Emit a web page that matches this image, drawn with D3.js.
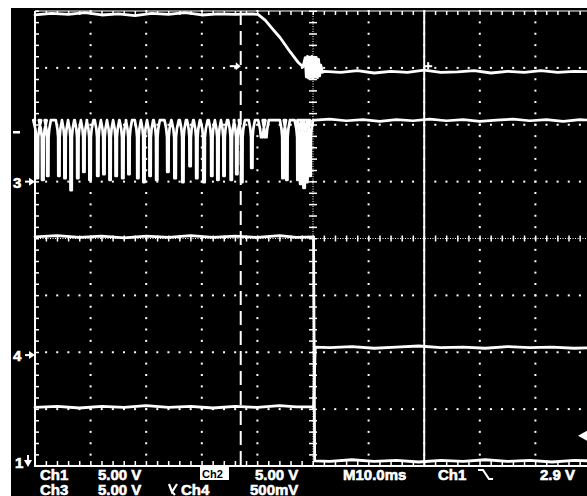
<!DOCTYPE html>
<html>
<head>
<meta charset="utf-8">
<script src="https://cdn.jsdelivr.net/npm/d3@7"></script>
<style>
  html, body { margin: 0; padding: 0; background: #fff; }
  svg { display: block; }
  .lbl { font-family: "Liberation Sans", Arial, sans-serif; font-weight: bold; font-size: 15px; fill: #fff; stroke: #fff; stroke-width: 0.6px; }
</style>
</head>
<body>
<svg id="scope" width="587" height="496"></svg>
<script>
// time in ms (10 ms/div, trigger at 0), level in divisions from screen centre
const timeDomain = [-50, 50];
const divDomain = [-4, 4];
const gridTimes = [-40, -30, -20, -10, 10, 20, 30, 40];
const gridDivs = [-3, -2, -1, 1, 2, 3];

// Ch1 : supply falling from ~3.95 div to ~2.93 div
const ch1Trace = [
  [-50, 3.93], [-47, 3.96], [-44, 3.94], [-41, 3.97], [-38, 3.93], [-35, 3.95], [-32, 3.92],
  [-29, 3.96], [-26, 3.94], [-23, 3.97], [-20, 3.93], [-17, 3.95], [-14, 3.94], [-11, 3.95],
  [-9.9, 3.94], [-8.6, 3.84], [-7.4, 3.70], [-5.9, 3.53], [-4.1, 3.28], [-2.7, 3.10], [-1.8, 3.02],
  [-1.4, 3.18], [-1.2, 2.84], [-1.0, 3.20], [-0.8, 2.82], [-0.6, 3.19], [-0.4, 2.83], [-0.2, 3.20],
  [0.0, 2.82], [0.2, 3.19], [0.4, 2.84], [0.6, 3.18], [0.8, 2.83], [1.0, 3.15], [1.2, 2.86], [1.4, 3.05],
  [1.7, 2.92], [2, 2.94], [5, 2.92], [8, 2.95], [11, 2.91], [14, 2.94], [17, 2.92], [20, 2.96], [23, 2.92],
  [26, 2.93], [29, 2.95], [32, 2.91], [35, 2.94], [38, 2.92], [41, 2.95], [44, 2.92], [47, 2.94], [50, 2.93]
];

// Ch2 : logic signal at ~2.08 div with negative pulses before the trigger
const ch2Level = 2.08;
const ch2Spikes = [ // [time, bottom level, half width]
  [-49.6, 1.06, 0.7], [-48.6, 1.03, 0.7], [-47.7, 1.10, 0.55], [-45.7, 1.10, 0.55], [-44.6, 1.06, 0.55],
  [-43.5, 0.85, 0.55], [-42.3, 1.06, 0.55], [-41.2, 1.17, 0.55], [-40.1, 1.03, 0.6], [-38.7, 1.10, 0.55],
  [-37.6, 1.13, 0.55], [-36.5, 1.03, 0.55], [-35.4, 1.10, 0.55], [-34.2, 1.06, 0.6], [-33.1, 1.13, 0.55],
  [-31.5, 1.06, 0.55], [-30.4, 0.99, 0.55], [-29.3, 1.10, 0.55], [-28.1, 1.03, 0.55], [-26.1, 1.17, 0.6],
  [-24.8, 1.06, 0.65], [-23.4, 0.99, 0.55], [-22.1, 1.27, 0.55], [-20.9, 1.06, 0.55], [-19.6, 0.99, 0.65],
  [-18.2, 1.10, 0.55], [-17.1, 1.03, 0.55], [-16.0, 1.10, 0.55], [-14.7, 1.03, 0.55], [-13.7, 1.13, 0.55],
  [-12.8, 0.99, 0.55], [-11.0, 1.24, 0.55], [-9.2, 1.80, 0.65], [-8.5, 1.84, 0.55], [-5.4, 1.06, 0.55],
  [-4.7, 1.03, 0.55], [-2.7, 1.03, 0.6], [-2.2, 0.96, 0.6], [-1.6, 0.89, 0.6], [-1.1, 0.99, 0.6], [-0.5, 1.10, 0.5]
];
const ch2Tail = [
  [0.3, 2.08], [3, 2.10], [6, 2.07], [9, 2.09], [12, 2.06], [15, 2.09], [18, 2.07], [21, 2.10],
  [24, 2.07], [27, 2.09], [30, 2.06], [33, 2.08], [36, 2.10], [39, 2.07], [42, 2.09], [45, 2.06], [48, 2.09], [50, 2.08]
];

// Ch3 : high at centre line, drops at the trigger
const ch3Trace = [
  [-50, 0.03], [-46, 0.05], [-42, 0.02], [-38, 0.04], [-34, 0.01], [-30, 0.04], [-26, 0.02],
  [-22, 0.05], [-18, 0.02], [-14, 0.04], [-10, 0.02], [-6, 0.05], [-3, 0.02], [0.1, 0.03],
  [0.3, -3.91], [3, -3.92], [7, -3.89], [11, -3.92], [15, -3.90], [19, -3.93], [23, -3.90],
  [27, -3.92], [31, -3.89], [35, -3.92], [39, -3.90], [43, -3.93], [47, -3.90], [50, -3.91]
];

// Ch4 : current probe, steps up at the trigger
const ch4Trace = [
  [-50, -2.97], [-46, -2.95], [-42, -2.98], [-38, -2.95], [-34, -2.97], [-30, -2.94], [-26, -2.97],
  [-22, -2.95], [-18, -2.98], [-14, -2.95], [-10, -2.97], [-6, -2.94], [-3, -2.96], [0.1, -2.96],
  [0.4, -1.91], [3, -1.92], [7, -1.90], [11, -1.93], [15, -1.91], [19, -1.89], [23, -1.92],
  [27, -1.91], [31, -1.93], [35, -1.90], [39, -1.92], [43, -1.91], [47, -1.93], [50, -1.92]
];

const cursorDashed = -13;
const cursorSolid = 20;
const channelMarkers = [["3", 1.0], ["4", -2.05]];

const svg = d3.select('#scope');
const width = 587, height = 496;

const x = d3.scaleLinear().domain(timeDomain).range([35, 591]);
const y = d3.scaleLinear().domain(divDomain).range([466, 11]);

// white margins and black screen
svg.append('rect').attr('width', width).attr('height', height).attr('fill', '#fff');
svg.append('rect').attr('x', 11).attr('y', 8).attr('width', width - 11).attr('height', height - 8).attr('fill', '#000');

const grid = svg.append('g').attr('fill', '#fff');
const minorT = d3.range(-50, 50.01, 2);
const minorV = d3.range(-4, 4.01, 0.2);

// dotted graticule
gridTimes.forEach(t => {
  grid.selectAll(null).data(minorV).enter().append('rect')
    .attr('x', x(t) - 1).attr('y', d => y(d) - 1).attr('width', 2).attr('height', 2);
});
gridDivs.forEach(v => {
  grid.selectAll(null).data(minorT).enter().append('rect')
    .attr('x', d => x(d) - 1).attr('y', y(v) - 1).attr('width', 2).attr('height', 2);
});

// centre axes with ticks
grid.append('line').attr('x1', x(-50)).attr('x2', x(50)).attr('y1', y(0)).attr('y2', y(0))
  .attr('stroke', '#fff').attr('stroke-width', 1).attr('stroke-dasharray', '1,1.5');
grid.append('line').attr('x1', x(0)).attr('x2', x(0)).attr('y1', y(4)).attr('y2', y(-4))
  .attr('stroke', '#fff').attr('stroke-width', 1).attr('stroke-dasharray', '1,1.5');
grid.selectAll(null).data(minorT).enter().append('rect')
  .attr('x', d => x(d) - 0.5).attr('y', y(0) - 3).attr('width', 1.5).attr('height', 6);
grid.selectAll(null).data(minorV).enter().append('rect')
  .attr('x', x(0) - 4).attr('y', d => y(d) - 0.5).attr('width', 8).attr('height', 1.5);

// frame edges with ticks
grid.append('rect').attr('x', x(-50) - 1).attr('y', y(4)).attr('width', 2).attr('height', y(-4) - y(4) + 1);
grid.append('rect').attr('x', x(-50)).attr('y', y(-4) - 1).attr('width', x(50) - x(-50)).attr('height', 2);
grid.append('rect').attr('x', x(-50)).attr('y', y(4) - 0.5).attr('width', x(50) - x(-50)).attr('height', 1);
grid.selectAll(null).data(minorV).enter().append('rect')
  .attr('x', x(-50)).attr('y', d => y(d) - 0.5).attr('width', 4).attr('height', 1.5);
grid.selectAll(null).data(minorT).enter().append('rect')
  .attr('x', d => x(d) - 0.5).attr('y', y(-4) - 5).attr('width', 1.5).attr('height', 5);
grid.selectAll(null).data(minorT).enter().append('rect')
  .attr('x', d => x(d) - 0.5).attr('y', y(4)).attr('width', 1.5).attr('height', 4);

// cursors
svg.append('line').attr('x1', x(cursorDashed)).attr('x2', x(cursorDashed)).attr('y1', y(4)).attr('y2', y(-4))
  .attr('stroke', '#fff').attr('stroke-width', 2).attr('stroke-dasharray', '14,6');
svg.append('line').attr('x1', x(cursorSolid)).attr('x2', x(cursorSolid)).attr('y1', y(4)).attr('y2', y(-4))
  .attr('stroke', '#fff').attr('stroke-width', 2);

// traces
const line = d3.line().x(d => x(d[0])).y(d => y(d[1]));

// each pulse: wide head just below the level, then a straight narrow stem
function ch2Points() {
  const pts = [[-50, ch2Level]];
  ch2Spikes.forEach(([t, bottom, w]) => {
    pts.push([t - w, ch2Level], [t - w * 0.5, ch2Level - 0.15], [t - w * 0.25, ch2Level - 0.3],
             [t - w * 0.2, bottom], [t + w * 0.2, bottom],
             [t + w * 0.25, ch2Level - 0.3], [t + w * 0.5, ch2Level - 0.15], [t + w, ch2Level]);
  });
  return pts.concat(ch2Tail);
}

const traces = svg.append('g').attr('fill', 'none').attr('stroke', '#fff')
  .attr('stroke-linejoin', 'round').attr('stroke-linecap', 'round');
traces.append('path').datum(ch1Trace).attr('d', line).attr('stroke-width', 2.8);
traces.append('path').datum(ch2Points()).attr('d', line).attr('stroke-width', 2.7);
traces.append('path').datum(ch3Trace).attr('d', line).attr('stroke-width', 2.8);
traces.append('path').datum(ch4Trace).attr('d', line).attr('stroke-width', 2.8);

// cursor readout markers
const mk = svg.append('g').attr('fill', '#fff').attr('stroke', '#fff');
mk.append('line').attr('x1', x(cursorDashed) - 11).attr('x2', x(cursorDashed) - 3)
  .attr('y1', y(3.03)).attr('y2', y(3.03)).attr('stroke-width', 2);
mk.append('path').attr('stroke', 'none')
  .attr('d', `M${x(cursorDashed) - 5},${y(3.03) - 4} L${x(cursorDashed)},${y(3.03)} L${x(cursorDashed) - 5},${y(3.03) + 4} Z`);
mk.append('line').attr('x1', x(cursorSolid)).attr('x2', x(cursorSolid) + 8)
  .attr('y1', y(3.03)).attr('y2', y(3.03)).attr('stroke-width', 2);
mk.append('line').attr('x1', x(cursorSolid) + 4).attr('x2', x(cursorSolid) + 4)
  .attr('y1', y(3.03) - 4).attr('y2', y(3.03) + 3).attr('stroke-width', 2);

// trigger level marker (right edge)
mk.append('path').attr('stroke', 'none')
  .attr('d', `M578,${y(-3.47)} L587,${y(-3.47) - 5} L587,${y(-3.47) + 5} Z`);

// channel ground markers on the left
channelMarkers.forEach(([name, v]) => {
  svg.append('text').attr('class', 'lbl').attr('x', 13).attr('y', y(v) + 6).text(name);
  mk.append('line').attr('x1', 25).attr('x2', 30).attr('y1', y(v)).attr('y2', y(v)).attr('stroke-width', 2);
  mk.append('path').attr('stroke', 'none')
    .attr('d', `M29,${y(v) - 4} L35,${y(v)} L29,${y(v) + 4} Z`);
});
svg.append('text').attr('class', 'lbl').attr('x', 15).attr('y', 468).text('1');
mk.append('line').attr('x1', 28).attr('x2', 28).attr('y1', 455).attr('y2', 461).attr('stroke-width', 2);
mk.append('path').attr('stroke', 'none').attr('d', 'M24,460 L32,460 L28,467 Z');
mk.append('rect').attr('x', 13).attr('y', 131).attr('width', 7).attr('height', 2.5).attr('stroke', 'none');

// readout text
const readout = [
  ['Ch1', 40, 479.5], ['5.00 V', 98, 479.5], ['5.00 V', 255, 479.5], ['M10.0ms', 343, 479.5], ['Ch1', 438, 479.5], ['2.9 V', 540, 479.5],
  ['Ch3', 40, 494.5], ['5.00 V', 98, 494.5], ['Ch4', 181, 494.5], ['500mV', 250, 494.5]
];
svg.selectAll('text.ro').data(readout).enter().append('text')
  .attr('class', 'lbl ro').attr('x', d => d[1]).attr('y', d => d[2]).text(d => d[0]);

// selected channel box
svg.append('rect').attr('x', 200).attr('y', 467).attr('width', 29).attr('height', 13).attr('fill', '#fff');
svg.append('text').attr('x', 202).attr('y', 478).attr('font-family', 'Liberation Sans, Arial, sans-serif')
  .attr('font-weight', 'bold').attr('font-size', 11).attr('fill', '#000').text('Ch2');

// falling-edge trigger symbol and bandwidth symbol
svg.append('path').attr('fill', 'none').attr('stroke', '#fff').attr('stroke-width', 2.2)
  .attr('d', 'M478,470 L483,470 L489,479 L493,479');
svg.append('path').attr('fill', 'none').attr('stroke', '#fff').attr('stroke-width', 2.2)
  .attr('d', 'M169,484 L172,492 L177,484 M172,492 L175,495');
</script>
</body>
</html>
